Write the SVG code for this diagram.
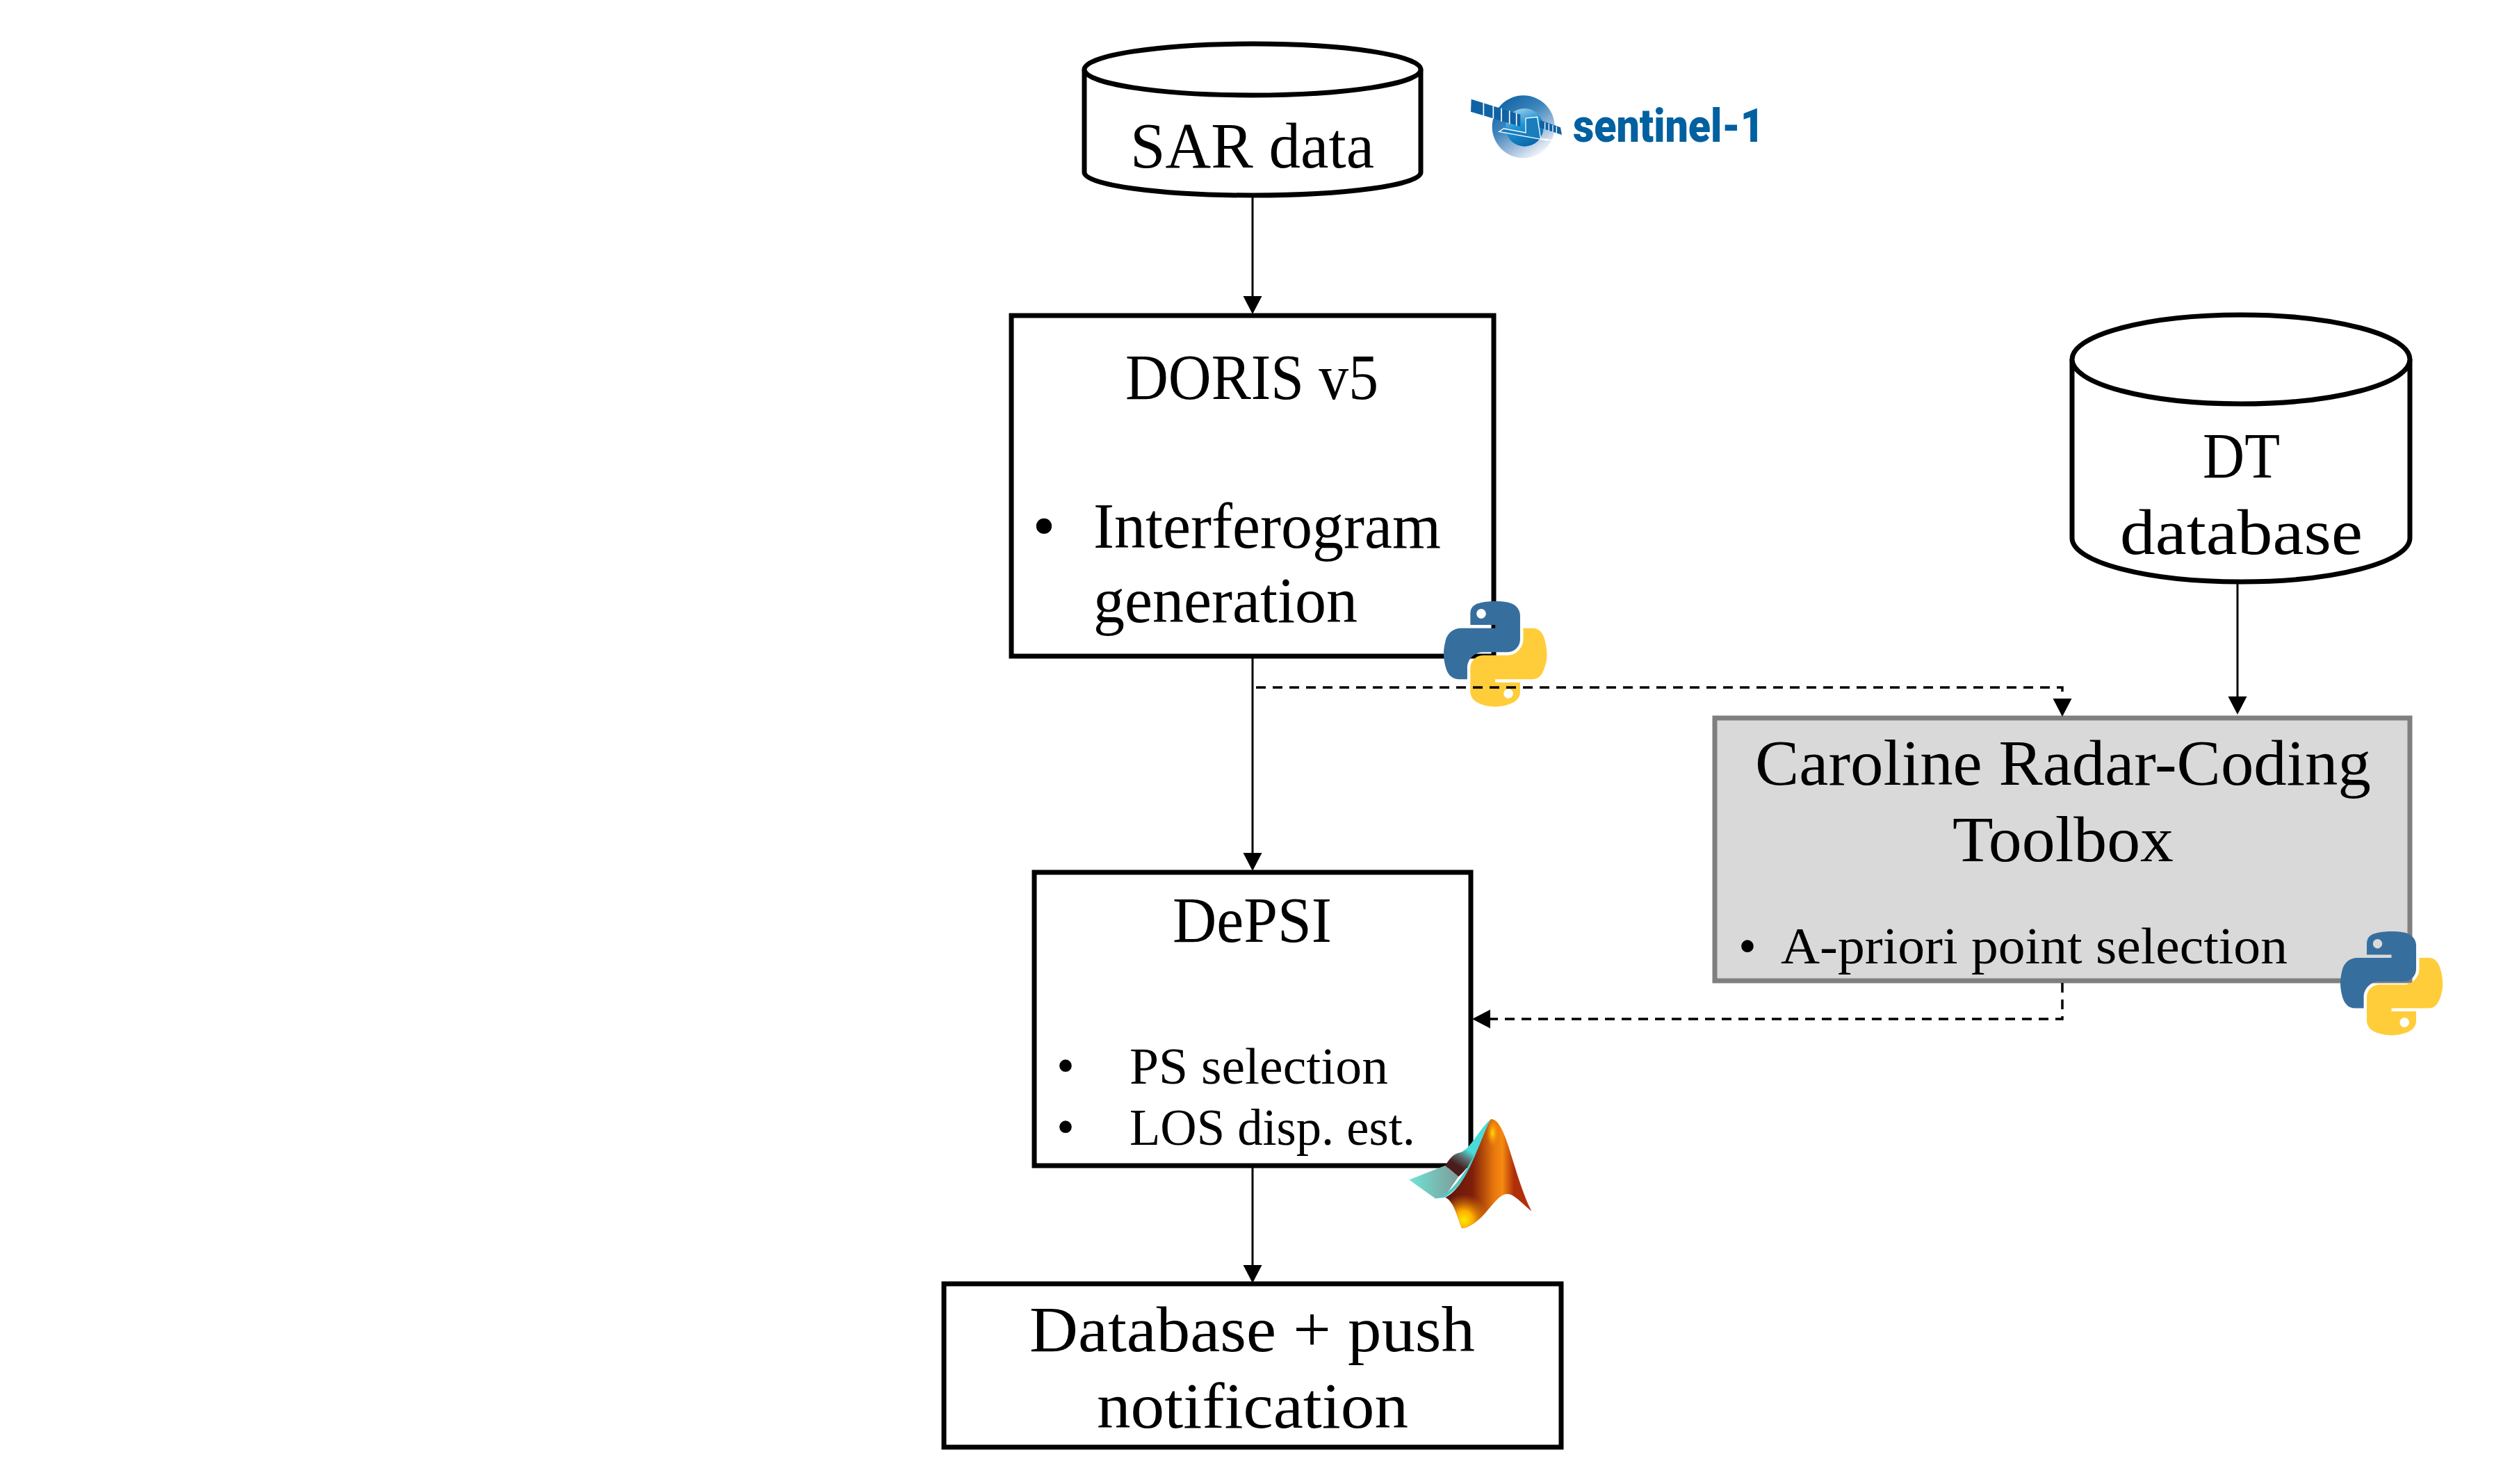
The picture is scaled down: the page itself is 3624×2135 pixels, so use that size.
<svg xmlns="http://www.w3.org/2000/svg" width="3624" height="2135" viewBox="0 0 3624 2135">
<style>
.box{fill:#fff;stroke:#000;stroke-width:7}
.gray{fill:#d9d9d9;stroke:#7f7f7f;stroke-width:7}
.big{font-family:"Liberation Serif",serif;font-size:94px;fill:#000}
.small{font-family:"Liberation Serif",serif;font-size:74px;fill:#000}
.bul{font-family:"Liberation Serif",serif;font-size:94px;fill:#000;text-anchor:middle}
.bul2{font-family:"Liberation Serif",serif;font-size:74px;fill:#000;text-anchor:middle}
.con{fill:none;stroke:#000;stroke-width:3}
.dash{fill:none;stroke:#000;stroke-width:3.5;stroke-dasharray:14 10}
.pyb{fill:#366f9e}
.pyy{fill:#ffcd3a}
.sen{font-family:Roboto,sans-serif;font-weight:900;fill:#0060a0}
</style>
<defs>
<marker id="arr" markerUnits="userSpaceOnUse" markerWidth="30" markerHeight="30" refX="22" refY="13.5" orient="auto"><path d="M0 0L26 13.5L0 27Z" fill="#000"/></marker>
<path id="pyBlue" fill-rule="evenodd" d="M54.919,0 C50.335,0.02 45.958,0.411 42.106,1.093 C30.76,3.098 28.7,7.295 28.7,15.032 L28.7,25.25 L55.513,25.25 L55.513,28.656 L28.7,28.656 L18.638,28.656 C10.846,28.656 4.023,33.34 1.888,42.25 C-0.574,52.463 -0.683,58.836 1.888,69.5 C3.794,77.438 8.346,83.094 16.138,83.094 L25.356,83.094 L25.356,70.844 C25.356,61.994 33.014,54.188 42.106,54.188 L68.888,54.188 C76.343,54.188 82.294,48.049 82.294,40.563 L82.294,15.032 C82.294,7.766 76.164,2.308 68.888,1.094 C64.282,0.327 59.503,-0.021 54.919,0 Z M40.419,8.219 C43.189,8.219 45.45,10.518 45.45,13.344 C45.45,16.16 43.189,18.438 40.419,18.438 C37.639,18.438 35.388,16.16 35.388,13.344 C35.388,10.518 37.639,8.219 40.419,8.219 Z"/>
<path id="pyYellow" fill-rule="evenodd" d="M85.638,28.656 L85.638,40.563 C85.638,49.794 77.812,57.563 68.888,57.563 L42.106,57.563 C34.77,57.563 28.7,63.842 28.7,71.188 L28.7,96.719 C28.7,103.985 35.018,108.259 42.106,110.344 C50.594,112.84 58.733,113.291 68.888,110.344 C75.638,108.389 82.294,104.456 82.294,96.719 L82.294,86.5 L55.513,86.5 L55.513,83.094 L82.294,83.094 L95.7,83.094 C103.493,83.094 106.396,77.658 109.106,69.5 C111.906,61.102 111.787,53.025 109.106,42.25 C107.18,34.492 103.501,28.656 95.7,28.656 Z M69.638,93.313 C72.418,93.313 74.669,95.591 74.669,98.407 C74.669,101.233 72.418,103.532 69.638,103.532 C66.868,103.532 64.607,101.233 64.607,98.407 C64.607,95.591 66.868,93.313 69.638,93.313 Z"/>
<linearGradient id="disc" x1="0.15" y1="0.05" x2="0.75" y2="0.95"><stop offset="0" stop-color="#0f62a4"/><stop offset="0.4" stop-color="#3f86bd"/><stop offset="0.75" stop-color="#a9c3de"/><stop offset="1" stop-color="#f2f5fa"/></linearGradient>
<linearGradient id="earth" x1="0.2" y1="0" x2="0.6" y2="1"><stop offset="0" stop-color="#a9d3ea"/><stop offset="0.45" stop-color="#1e95d6"/><stop offset="1" stop-color="#0b66a8"/></linearGradient>
<linearGradient id="mteal" x1="0" y1="0" x2="1" y2="0"><stop offset="0" stop-color="#6fe3d6"/><stop offset="1" stop-color="#7f9c98"/></linearGradient>
<linearGradient id="mback" gradientUnits="userSpaceOnUse" x1="345" y1="190" x2="275" y2="305"><stop offset="0.25" stop-color="#49dcd8"/><stop offset="0.55" stop-color="#5a6a6a"/><stop offset="0.85" stop-color="#4a1c1c"/></linearGradient>
<linearGradient id="morange" gradientUnits="userSpaceOnUse" x1="240" y1="300" x2="600" y2="300"><stop offset="0" stop-color="#5e160c"/><stop offset="0.32" stop-color="#7e1f0a"/><stop offset="0.58" stop-color="#e8780c"/><stop offset="0.68" stop-color="#f58a10"/><stop offset="0.82" stop-color="#ae2f0a"/><stop offset="1" stop-color="#b5300a"/></linearGradient>
<radialGradient id="mglow1" gradientUnits="userSpaceOnUse" cx="442" cy="150" r="60" gradientTransform="translate(442 150) scale(.45 1) translate(-442 -150)"><stop offset="0" stop-color="#ffe000"/><stop offset="1" stop-color="#ff8a10" stop-opacity="0"/></radialGradient>
<radialGradient id="mglow2" gradientUnits="userSpaceOnUse" cx="318" cy="525" r="110"><stop offset="0" stop-color="#ffe800"/><stop offset="0.35" stop-color="#ffb000"/><stop offset="1" stop-color="#e8780c" stop-opacity="0"/></radialGradient>
<clipPath id="mclip"><path d="M435 90C470 90 495 150 530 270C555 350 580 430 610 487C570 455 535 413 505 413C450 413 410 540 310 562C290 510 275 445 238 428C340 380 395 150 435 90Z"/></clipPath>
</defs>

<g id="node-sar">
<path class="box" d="M1560 100V248C1560 266 1668 281 1802 281S2044 266 2044 248V100"/>
<ellipse class="box" cx="1802" cy="100" rx="242" ry="37"/>
<text class="big" x="1626" y="241" textLength="351" lengthAdjust="spacingAndGlyphs">SAR data</text>
</g>
<g id="node-doris">
<rect class="box" x="1455" y="454" width="694" height="490"/>
<text class="big" x="1619" y="574" textLength="364" lengthAdjust="spacingAndGlyphs">DORIS v5</text>
<text class="bul" x="1502" y="788">•</text>
<text class="big" x="1573" y="788" textLength="500" lengthAdjust="spacingAndGlyphs">Interferogram</text>
<text class="big" x="1573" y="895" textLength="380" lengthAdjust="spacingAndGlyphs">generation</text>
</g>
<g id="node-dt">
<path class="box" d="M2981 517V774C2981 809 3090 837 3224 837S3467 809 3467 774V517"/>
<ellipse class="box" cx="3224" cy="517" rx="243" ry="64"/>
<text class="big" x="3169" y="687" textLength="111" lengthAdjust="spacingAndGlyphs">DT</text>
<text class="big" x="3050" y="797" textLength="349" lengthAdjust="spacingAndGlyphs">database</text>
</g>
<g id="node-caroline">
<rect class="gray" x="2467" y="1033" width="1000" height="378"/>
<text class="big" x="2525" y="1129" textLength="886" lengthAdjust="spacingAndGlyphs">Caroline Radar-Coding</text>
<text class="big" x="2809" y="1239" textLength="318" lengthAdjust="spacingAndGlyphs">Toolbox</text>
<text class="bul2" x="2514" y="1386">•</text>
<text class="small" x="2562" y="1386" textLength="729" lengthAdjust="spacingAndGlyphs">A-priori point selection</text>
</g>
<g id="node-depsi">
<rect class="box" x="1488" y="1255" width="628" height="422"/>
<text class="big" x="1687" y="1355" textLength="229" lengthAdjust="spacingAndGlyphs">DePSI</text>
<text class="bul2" x="1533" y="1558">•</text>
<text class="small" x="1625" y="1559" textLength="372" lengthAdjust="spacingAndGlyphs">PS selection</text>
<text class="bul2" x="1533" y="1646">•</text>
<text class="small" x="1625" y="1647" textLength="411" lengthAdjust="spacingAndGlyphs">LOS disp. est.</text>
</g>
<g id="node-database">
<rect class="box" x="1358" y="1847" width="888" height="235"/>
<text class="big" x="1481" y="1944" textLength="641" lengthAdjust="spacingAndGlyphs">Database + push</text>
<text class="big" x="1578" y="2054" textLength="448" lengthAdjust="spacingAndGlyphs">notification</text>
</g>

<g id="logo-sentinel">
<g transform="translate(2100 120) scale(.3333)">
<circle cx="275" cy="187" r="135" fill="url(#disc)"/>
<circle cx="280" cy="190" r="82" fill="url(#earth)"/>
<path d="M50 68L262 134L262 186L48 122Z" fill="#0f62a4"/>
<path d="M103 82L103 140M145 95L145 152M180 107L180 164M215 118L215 174M245 128L245 182" stroke="#fff" stroke-width="5" fill="none"/>
<path d="M345 158L435 190L441 222L345 190Z" fill="#0f62a4"/>
<path d="M368 168L368 197M385 174L385 203M402 180L402 209M418 186L418 215" stroke="#fff" stroke-width="4" fill="none"/>
<path d="M170 208L190 195L285 213L285 150L335 145L350 240L400 243L385 247L170 208Z" fill="#1a7dbd" stroke="#fff" stroke-width="4"/>
</g>
<text class="sen" x="2263" y="204" textLength="275" lengthAdjust="spacingAndGlyphs" font-size="66">sentinel-1</text>
</g>

<g id="logo-python-1" transform="translate(2077 865) scale(1.336 1.35)">
<use href="#pyBlue" class="pyb"/><use href="#pyYellow" class="pyy"/>
</g>
<g id="logo-python-2" transform="translate(3367 1340) scale(1.325 1.33)">
<use href="#pyBlue" class="pyb"/><use href="#pyYellow" class="pyy"/>
</g>
<g id="logo-matlab" transform="translate(2000 1580) scale(.3333)">
<path d="M82 352L238 290L295 338L235 425L195 433Z" fill="url(#mteal)"/>
<path d="M238 290C255 265 270 240 300 235C345 225 385 130 435 90C400 150 360 290 295 338Z" fill="url(#mback)"/>
<path d="M195 433C300 405 370 230 435 90C395 190 335 375 235 428Z" fill="#4fc9c9"/>
<path d="M435 90C470 90 495 150 530 270C555 350 580 430 610 487C570 455 535 413 505 413C450 413 410 540 310 562C290 510 275 445 238 428C340 380 395 150 435 90Z" fill="url(#morange)"/>
<g clip-path="url(#mclip)">
<rect x="400" y="80" width="90" height="140" fill="url(#mglow1)"/>
<circle cx="318" cy="525" r="110" fill="url(#mglow2)"/>
</g>
</g>

<g id="connectors">
<path class="con" d="M1802 284V448" marker-end="url(#arr)"/>
<path class="con" d="M1802 947V1249" marker-end="url(#arr)"/>
<path class="con" d="M1802 1680V1842" marker-end="url(#arr)"/>
<path class="con" d="M3219 840V1024" marker-end="url(#arr)"/>
<path class="dash" d="M1807 989H2967V1027" marker-end="url(#arr)"/>
<path class="dash" d="M2967 1414V1466H2122" marker-end="url(#arr)"/>
</g>
</svg>
